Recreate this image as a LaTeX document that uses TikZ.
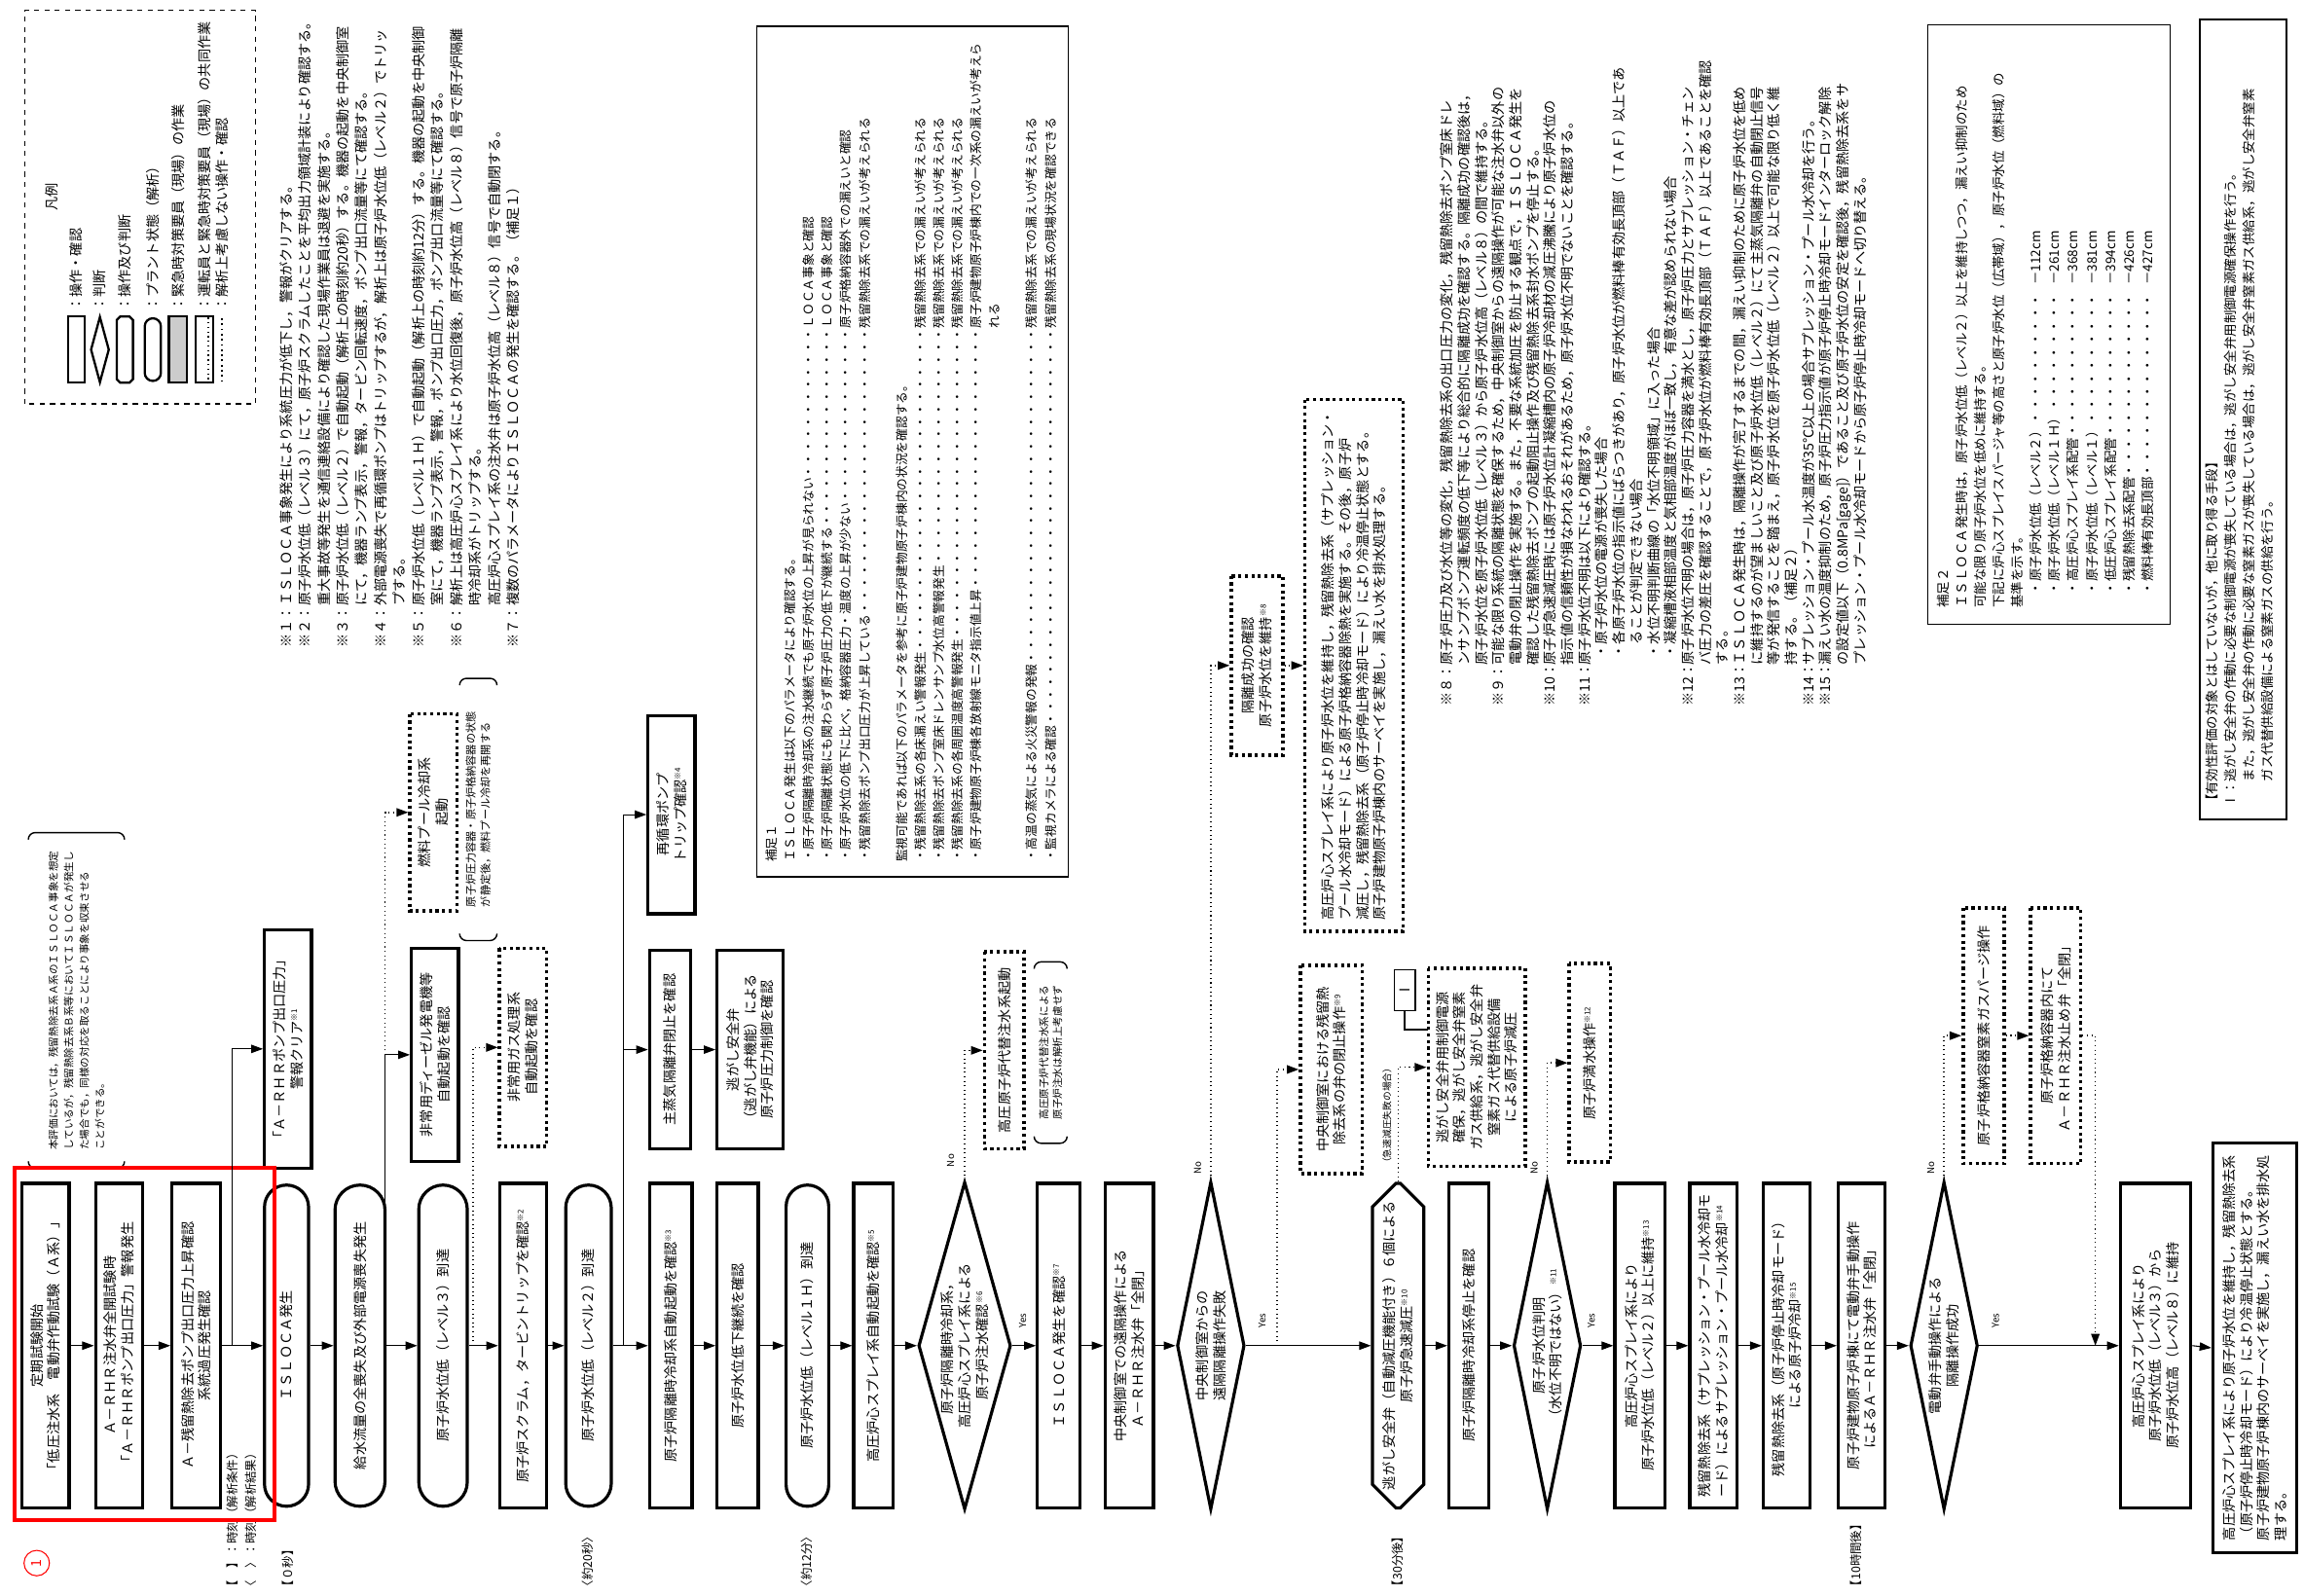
\documentclass[tikz,border=0pt]{standalone}
\usepackage{fontspec}
\setmainfont{Noto Sans CJK JP}
\usetikzlibrary{arrows.meta,calc,shapes.geometric,shapes.misc}
\newcommand{\kome}[1]{\textsuperscript{\fontsize{4.5}{5}\selectfont ※#1}}
\newcommand{\hng}[2]{\makebox[#1][l]{#2}}
\newcommand{\pts}{\leaders\hbox to 1em{\hss・\hss}\hfill}
\newcommand{\ldrow}[3]{\makebox[#1][l]{#2\pts}#3}

\begin{document}
\begin{tikzpicture}[x=0.03cm,y=0.03cm,
    every node/.style={font=\fontsize{8}{10}\selectfont},
    box/.style={draw,line width=1.8pt,rotate=90,align=center,inner sep=1pt,
                minimum width=6.63cm},
    dbox/.style={box,dotted,line width=2pt},
    plant/.style={box,rounded rectangle},
    hexa/.style={box,chamfered rectangle,chamfered rectangle xsep=0.3cm,
                 chamfered rectangle ysep=0.18cm},
    dia/.style={draw,diamond,line width=1.8pt,rotate=90,inner sep=0pt,
                minimum width=6.69cm},
    txt/.style={rotate=90,align=center,inner sep=0pt},
    note/.style={rotate=90,align=left,inner sep=0pt,anchor=north west,
                 font=\fontsize{8}{11}\selectfont},
    brnote/.style={rotate=90,align=left,inner sep=2.5pt,
                   font=\fontsize{6}{9}\selectfont},
    brk/.style={line width=0.8pt,rounded corners=4pt},
    lab/.style={rotate=90,anchor=west,inner sep=0pt,font=\fontsize{7}{8}\selectfont},
    yn/.style={rotate=90,inner sep=0pt,font=\fontsize{5.5}{6}\selectfont},
    arr/.style={-{Triangle[length=2.4mm,width=1.7mm]},line width=0.6pt},
    darr/.style={arr,dotted,line width=0.9pt}
  ]
  \useasboundingbox (0,0) rectangle (1568,1086);

  % legend
  \draw[dashed,line width=0.8pt] (17,811) rectangle (174,1079);
  \node[rotate=90] (lgt) at (35,952) {凡例};
  \node[box,minimum width=1.35cm,minimum height=0.33cm,line width=1.3pt] (lg1) at (52,848) {};
  \node[dia,minimum width=1.35cm,minimum height=0.38cm,line width=1.3pt] (lg2) at (68,848) {};
  \node[hexa,minimum width=1.35cm,minimum height=0.33cm,line width=1.3pt,
        chamfered rectangle xsep=0.1cm,chamfered rectangle ysep=0.08cm] (lg3) at (85,848) {};
  \node[plant,minimum width=1.35cm,minimum height=0.33cm,line width=1.3pt] (lg4) at (104,848) {};
  \node[box,fill=black!20,minimum width=1.35cm,minimum height=0.36cm,line width=1.3pt] (lg5) at (121,848) {};
  \node[box,minimum width=1.35cm,minimum height=0.36cm,line width=1.3pt] (lg6) at (139,848) {};
  \draw[dotted,line width=0.7pt] ($(lg6.south west)!0.3!(lg6.north west)$) -- ($(lg6.south east)!0.3!(lg6.north east)$);
  \draw[dotted,line width=1pt] (151,826) -- (151,871);
  \node[lab,font=\fontsize{8}{10}\selectfont] (lgl1) at (52,874) {：操作・確認};
  \node[lab,font=\fontsize{8}{10}\selectfont] (lgl2) at (68,874) {：判断};
  \node[lab,font=\fontsize{8}{10}\selectfont] (lgl3) at (85,874) {：操作及び判断};
  \node[lab,font=\fontsize{8}{10}\selectfont] (lgl4) at (104,874) {：プラント状態（解析）};
  \node[lab,font=\fontsize{8}{10}\selectfont] (lgl5) at (121,874) {：緊急時対策要員（現場）の作業};
  \node[lab,font=\fontsize{8}{10}\selectfont] (lgl6) at (139,874) {：運転員と緊急時対策要員（現場）の共同作業};
  \node[lab,font=\fontsize{8}{10}\selectfont] (lgl7) at (151,874) {：解析上考慮しない操作・確認};

  % notes 1-7
  \node[note] (nta) at (190,645) {%
    \hng{3em}{※１：}ＩＳＬＯＣＡ事象発生により系統圧力が低下し，警報がクリアする。\\
    \hng{3em}{※２：}原子炉水位低（レベル３）にて，原子炉スクラムしたことを平均出力領域計装により確認する。\\
    \hng{3em}{}重大事故等発生を通信連絡設備により確認した現場作業員は退避を実施する。\\
    \hng{3em}{※３：}原子炉水位低（レベル２）で自動起動（解析上の時刻約20秒）する。機器の起動を中央制御室\\
    \hng{3em}{}にて，機器ランプ表示，警報，タービン回転速度，ポンプ出口流量等にて確認する。\\
    \hng{3em}{※４：}外部電源喪失で再循環ポンプはトリップするが，解析上は原子炉水位低（レベル２）でトリッ\\
    \hng{3em}{}プする。\\
    \hng{3em}{※５：}原子炉水位低（レベル１Ｈ）で自動起動（解析上の時刻約12分）する。機器の起動を中央制御\\
    \hng{3em}{}室にて，機器ランプ表示，警報，ポンプ出口圧力，ポンプ出口流量等にて確認する。\\
    \hng{3em}{※６：}解析上は高圧炉心スプレイ系により水位回復後，原子炉水位高（レベル８）信号で原子炉隔離\\
    \hng{3em}{}時冷却系がトリップする。\\
    \hng{3em}{}高圧炉心スプレイ系の注水弁は原子炉水位高（レベル８）信号で自動閉する。\\
    \hng{3em}{※７：}複数のパラメータによりＩＳＬＯＣＡの発生を確認する。（補足１）};

  % notes 8-15
  \node[note,font=\fontsize{8}{10}\selectfont] (ntb) at (980,605) {%
    \hng{3em}{※８：}原子炉圧力及び水位等の変化，残留熱除去系の出口圧力の変化，残留熱除去ポンプ室床ドレ\\
    \hng{3em}{}ンサンプポンプ運転頻度の低下等により総合的に隔離成功を確認する。隔離成功の確認後は，\\
    \hng{3em}{}原子炉水位を原子炉水位低（レベル３）から原子炉水位高（レベル８）の間で維持する。\\
    \hng{3em}{※９：}可能な限り系統の隔離状態を確保するため，中央制御室からの遠隔操作が可能な注水弁以外の\\
    \hng{3em}{}電動弁の閉止操作を実施する。また，不要な系統加圧を防止する観点で，ＩＳＬＯＣＡ発生を\\
    \hng{3em}{}確認した残留熱除去ポンプの起動阻止操作及び残留熱除去系封水ポンプを停止する。\\
    \hng{3em}{※10：}原子炉急速減圧時には原子炉水位計凝縮槽内の原子炉冷却材の減圧沸騰により原子炉水位の\\
    \hng{3em}{}指示値の信頼性が損なわれるおそれがあるため，原子炉水位不明でないことを確認する。\\
    \hng{3em}{※11：}原子炉水位不明は以下により確認する。\\
    \hng{3.5em}{}・原子炉水位の電源が喪失した場合\\
    \hng{3.5em}{}・各原子炉水位の指示値にばらつきがあり，原子炉水位が燃料棒有効長頂部（ＴＡＦ）以上であ\\
    \hng{4.5em}{}ることが判定できない場合\\
    \hng{3.5em}{}・水位不明判断曲線の「水位不明領域」に入った場合\\
    \hng{3.5em}{}・凝縮槽液相部温度と気相部温度がほぼ一致し，有意な差が認められない場合\\
    \hng{3em}{※12：}原子炉水位不明の場合は，原子炉圧力容器を満水とし，原子炉圧力とサプレッション・チェン\\
    \hng{3em}{}バ圧力の差圧を確認することで，原子炉水位が燃料棒有効長頂部（ＴＡＦ）以上であることを確認\\
    \hng{3em}{}する。\\
    \hng{3em}{※13：}ＩＳＬＯＣＡ発生時は，隔離操作が完了するまでの間，漏えい抑制のために原子炉水位を低め\\
    \hng{3em}{}に維持するのが望ましいこと及び原子炉水位低（レベル２）にて主蒸気隔離弁の自動閉止信号\\
    \hng{3em}{}等が発信することを踏まえ，原子炉水位を原子炉水位低（レベル２）以上で可能な限り低く維\\
    \hng{3em}{}持する。（補足２）\\
    \hng{3em}{※14：}サプレッション・プール水温度が35℃以上の場合サプレッション・プール水冷却を行う。\\
    \hng{3em}{※15：}漏えい水の温度抑制のため，原子炉圧力指示値が原子炉停止時冷却モードインターロック解除\\
    \hng{3em}{}の設定値以下（0.8MPa[gage]）であること及び原子炉水位の安定を確認後，残留熱除去系をサ\\
    \hng{3em}{}プレッション・プール水冷却モードから原子炉停止時冷却モードへ切り替える。};

  % supplement 1
  \draw[line width=0.9pt] (515,489) rectangle (727,1068);
  \node[note,font=\fontsize{7.2}{10.8}\selectfont] (sup1) at (521,499) {%
    補足１\\
    ＩＳＬＯＣＡ発生は以下のパラメータにより確認する。\\
    \ldrow{10.9cm}{・原子炉隔離時冷却系の注水継続でも原子炉水位の上昇が見られない}{ＬＯＣＡ事象と確認}\\
    \ldrow{10.9cm}{・原子炉隔離状態にも関わらず原子炉圧力の低下が継続する}{ＬＯＣＡ事象と確認}\\
    \ldrow{10.9cm}{・原子炉水位の低下に比べ，格納容器圧力・温度の上昇が少ない}{原子炉格納容器外での漏えいと確認}\\
    \ldrow{10.9cm}{・残留熱除去ポンプ出口圧力が上昇している}{残留熱除去系での漏えいが考えられる}\\[10.8pt]
    監視可能であれば以下のパラメータを参考に原子炉建物原子炉棟内の状況を確認する。\\
    \ldrow{10.9cm}{・残留熱除去系の各床漏えい警報発生}{残留熱除去系での漏えいが考えられる}\\
    \ldrow{10.9cm}{・残留熱除去ポンプ室床ドレンサンプ水位高警報発生}{残留熱除去系での漏えいが考えられる}\\
    \ldrow{10.9cm}{・残留熱除去系の各周囲温度高警報発生}{残留熱除去系での漏えいが考えられる}\\
    \ldrow{10.9cm}{・原子炉建物原子炉棟各放射線モニタ指示値上昇}{原子炉建物原子炉棟内での一次系の漏えいが考えら}\\
    \hng{10.9cm}{}れる\\[10.8pt]
    \ldrow{10.9cm}{・高温の蒸気による火災警報の発報}{残留熱除去系での漏えいが考えられる}\\
    \ldrow{10.9cm}{・監視カメラによる確認}{残留熱除去系の現場状況を確認できる}};

  % supplement 2
  \draw[line width=0.9pt] (1312,661) rectangle (1477,1069);
  \node[note,font=\fontsize{7.6}{10.8}\selectfont] (sup2) at (1318,672) {%
    補足２\\
    ＩＳＬＯＣＡ発生時は，原子炉水位低（レベル２）以上を維持しつつ，漏えい抑制のため\\
    可能な限り原子炉水位を低めに維持する。\\
    下記に炉心スプレイスパージャ等の高さと原子炉水位（広帯域），原子炉水位（燃料域）の\\
    基準を示す。\\
    \ldrow{6.6cm}{\quad・原子炉水位低（レベル２）}{－112cm}\\
    \ldrow{6.6cm}{\quad・原子炉水位低（レベル１Ｈ）}{－261cm}\\
    \ldrow{6.6cm}{\quad・高圧炉心スプレイ系配管}{－368cm}\\
    \ldrow{6.6cm}{\quad・原子炉水位低（レベル１）}{－381cm}\\
    \ldrow{6.6cm}{\quad・低圧炉心スプレイ系配管}{－394cm}\\
    \ldrow{6.6cm}{\quad・残留熱除去系配管}{－426cm}\\
    \ldrow{6.6cm}{\quad・燃料棒有効長頂部}{－427cm}};

  % other means
  \draw[line width=1.2pt] (1497,528) rectangle (1556,1073);
  \node[note,font=\fontsize{7.6}{10.8}\selectfont] (oth) at (1501,536) {%
    【有効性評価の対象とはしていないが，他に取り得る手段】\\
    Ⅰ：逃がし安全弁の作動に必要な制御電源が喪失している場合は，逃がし安全弁用制御電源確保操作を行う。\\
    \hng{2em}{}また，逃がし安全弁の作動に必要な窒素ガスが喪失している場合は，逃がし安全弁窒素ガス供給系，逃がし安全弁窒素\\
    \hng{2em}{}ガス代替供給設備による窒素ガスの供給を行う。};

  % main flow
  \node[box,minimum height=0.96cm] (s1) at (31,170) {定期試験開始\\「低圧注水系　電動弁作動試験（Ａ系）」};
  \node[box,minimum height=0.96cm] (s2) at (81,170) {Ａ－ＲＨＲ注水弁全開試験時\\「Ａ－ＲＨＲポンプ出口圧力」警報発生};
  \node[box,minimum height=0.99cm] (s3) at (133.5,170) {Ａ－残留熱除去ポンプ出口圧力上昇確認\\系統過圧発生確認};
  \node[plant,minimum height=0.9cm] (iso) at (195,170) {ＩＳＬＯＣＡ発生};
  \node[plant,minimum height=1.02cm] (lop) at (245,170) {給水流量の全喪失及び外部電源喪失発生};
  \node[plant,minimum height=0.99cm] (l3) at (301.5,170) {原子炉水位低（レベル３）到達};
  \node[box,minimum height=0.96cm] (scr) at (356,170) {原子炉スクラム，タービントリップを確認\kome{2}};
  \node[plant,minimum height=0.93cm] (l2) at (400.5,170) {原子炉水位低（レベル２）到達};
  \node[box,minimum height=0.87cm] (rcic) at (456.5,170) {原子炉隔離時冷却系自動起動を確認\kome{3}};
  \node[box,minimum height=0.84cm] (lvd) at (502,170) {原子炉水位低下継続を確認};
  \node[plant,minimum height=0.87cm] (l1h) at (549.5,170) {原子炉水位低（レベル１Ｈ）到達};
  \node[box,minimum height=0.81cm] (hpcs) at (594.5,170) {高圧炉心スプレイ系自動起動を確認\kome{5}};
  \node[dia,minimum height=1.89cm] (d1) at (656.5,170) {};
  \node[txt] (d1t) at (d1) {原子炉隔離時冷却系，\\高圧炉心スプレイ系による\\原子炉注水確認\kome{6}};
  \node[box,minimum height=0.87cm] (isoc) at (720.5,170) {ＩＳＬＯＣＡ発生を確認\kome{7}};
  \node[box,minimum height=0.99cm] (rem) at (768.5,170) {中央制御室での遠隔操作による\\Ａ－ＲＨＲ注水弁「全閉」};
  \node[dia,minimum height=1.38cm] (d2) at (824,170) {};
  \node[txt] (d2t) at (d2) {中央制御室からの\\遠隔隔離操作失敗};
  \node[hexa,minimum height=0.99cm] (sr) at (951.5,170) {逃がし安全弁（自動減圧機能付き）６個による\\原子炉急速減圧\kome{10}};
  \node[box,minimum height=0.81cm] (rcst) at (999.5,170) {原子炉隔離時冷却系停止を確認};
  \node[dia,minimum height=1.38cm] (d3) at (1053,170) {};
  \node[txt] (d3t) at (d3) {原子炉水位判明\\（水位不明ではない）\kome{11}};
  \node[box,minimum height=1.02cm] (hp2) at (1116,170) {高圧炉心スプレイ系により\\原子炉水位低（レベル２）以上に維持\kome{13}};
  \node[box,minimum height=0.96cm,align=left] (spc) at (1166,170) {残留熱除去系（サプレッション・プール水冷却モ\\ード）によるサプレッション・プール水冷却\kome{14}};
  \node[box,minimum height=0.96cm] (shc) at (1216,170) {残留熱除去系（原子炉停止時冷却モード）\\による原子炉冷却\kome{15}};
  \node[box,minimum height=0.96cm] (man) at (1267,170) {原子炉建物原子炉棟にて電動弁手動操作\\によるＡ－ＲＨＲ注水弁「全閉」};
  \node[dia,minimum height=1.38cm] (d4) at (1323,170) {};
  \node[txt] (d4t) at (d4) {電動弁手動操作による\\隔離操作成功};
  \node[box,minimum height=1.44cm] (hp8) at (1467,170) {高圧炉心スプレイ系により\\原子炉水位低（レベル３）から\\原子炉水位高（レベル８）に維持};
  \node[box,minimum width=8.37cm,minimum height=1.71cm,align=left,inner sep=3pt] (fin) at (1534.5,168.5) {高圧炉心スプレイ系により原子炉水位を維持し，残留熱除去系\\（原子炉停止時冷却モード）により冷温停止状態とする。\\原子炉建物原子炉棟内のサーベイを実施し，漏えい水を排水処\\理する。};

  % side branches
  \node[box,minimum width=4.86cm,minimum height=0.96cm] (clr) at (196,372) {「Ａ－ＲＨＲポンプ出口圧力」\\警報クリア\kome{1}};
  \node[brnote,minimum width=6.84cm,minimum height=1.95cm] (n0) at (52,405) {本評価においては，残留熱除去系Ａ系のＩＳＬＯＣＡ事象を想定\\しているが，残留熱除去系Ｂ系等においてＩＳＬＯＣＡが発生し\\た場合でも，同様の対応を取ることにより事象を収束させる\\ことができる。};
  \node[box,minimum width=4.35cm,minimum height=0.96cm] (dg) at (296,368) {非常用ディーゼル発電機等\\自動起動を確認};
  \node[dbox,minimum width=4.02cm,minimum height=0.96cm] (fpc) at (295,533) {燃料プール冷却系\\起動};
  \node[brnote,minimum width=5.34cm,minimum height=0.75cm,font=\fontsize{6.3}{8.5}\selectfont] (n1) at (325.5,535) {原子炉圧力容器・原子炉格納容器の状態\\が静定後，燃料プール冷却を再開する};
  \node[dbox,minimum width=4.05cm,minimum height=0.96cm] (sgts) at (356,373) {非常用ガス処理系\\自動起動を確認};
  \node[box,minimum width=4.05cm,minimum height=0.96cm] (rpt) at (457,531.5) {再循環ポンプ\\トリップ確認\kome{4}};
  \node[box,minimum width=4.05cm,minimum height=0.84cm] (msiv) at (456,371.5) {主蒸気隔離弁閉止を確認};
  \node[box,minimum width=4.05cm,minimum height=1.35cm] (srv) at (510.5,371.5) {逃がし安全弁\\（逃がし弁機能）による\\原子炉圧力制御を確認};
  \node[dbox,minimum width=4.02cm,minimum height=0.81cm] (hpac) at (683.5,371) {高圧原子炉代替注水系起動};
  \node[brnote,minimum width=3.69cm,minimum height=0.66cm,font=\fontsize{6}{8}\selectfont] (n2) at (715,369.5) {高圧原子炉代替注水系による\\原子炉注水は解析上考慮せず};
  \node[dbox,minimum width=3.66cm,minimum height=1.05cm] (isok) at (855.5,633) {隔離成功の確認\\原子炉水位を維持\kome{8}};
  \node[dbox,minimum width=10.86cm,minimum height=2.01cm,align=left,inner sep=3pt] (long) at (921.5,633) {高圧炉心スプレイ系により原子炉水位を維持し，残留熱除去系（サプレッション・\\プール水冷却モード）による原子炉格納容器除熱を実施する。その後，原子炉\\減圧し，残留熱除去系（原子炉停止時冷却モード）により冷温停止状態とする。\\原子炉建物原子炉棟内のサーベイを実施し，漏えい水を排水処理する。};
  \node[dbox,minimum width=4.26cm,minimum height=1.26cm] (rhrv) at (906,358) {中央制御室における残留熱\\除去系の弁の閉止操作\kome{9}};
  \node[lab,font=\fontsize{5.5}{6}\selectfont] (fail) at (944,291) {（急速減圧失敗の場合）};
  \node[dbox,minimum width=4.05cm,minimum height=1.98cm] (srvn) at (1005,359.5) {逃がし安全弁用制御電源\\確保，逃がし安全弁窒素\\ガス供給系，逃がし安全弁\\窒素ガス代替供給設備\\による原子炉減圧};
  \node[draw,line width=0.9pt,rotate=90,minimum width=0.84cm,minimum height=0.42cm,inner sep=0pt] (ibox) at (956,412) {Ⅰ};
  \coordinate (ip) at (972,385);
  \node[dbox,minimum width=4.05cm,minimum height=0.84cm] (fill) at (1082,362.5) {原子炉満水操作\kome{12}};
  \node[dbox,minimum width=5.22cm,minimum height=0.84cm] (purge) at (1350,381) {原子炉格納容器窒素ガスパージ操作};
  \node[dbox,minimum width=5.22cm,minimum height=1.02cm] (cv) at (1399,381) {原子炉格納容器内にて\\Ａ－ＲＨＲ注水止め弁「全閉」};

  % brackets
  \draw[brk] ($(n0.north west)!4pt!(n0.north east)$) -- (n0.north west) -- (n0.south west) -- ($(n0.south west)!4pt!(n0.south east)$);
  \draw[brk] ($(n0.north east)!4pt!(n0.north west)$) -- (n0.north east) -- (n0.south east) -- ($(n0.south east)!4pt!(n0.south west)$);
  \draw[brk] ($(n1.north west)!4pt!(n1.north east)$) -- (n1.north west) -- (n1.south west) -- ($(n1.south west)!4pt!(n1.south east)$);
  \draw[brk] ($(n1.north east)!4pt!(n1.north west)$) -- (n1.north east) -- (n1.south east) -- ($(n1.south east)!4pt!(n1.south west)$);
  \draw[brk] ($(n2.north west)!4pt!(n2.north east)$) -- (n2.north west) -- (n2.south west) -- ($(n2.south west)!4pt!(n2.south east)$);
  \draw[brk] ($(n2.north east)!4pt!(n2.north west)$) -- (n2.north east) -- (n2.south east) -- ($(n2.south east)!4pt!(n2.south west)$);

  % time labels
  \node[lab] (k1) at (158,2) {【　】：時刻（解析条件）};
  \node[lab] (k2) at (171,2) {〈　〉：時刻（解析結果）};
  \node[lab] (t0) at (196,2) {【０秒】};
  \node[lab] (t20) at (400,2) {〈約20秒〉};
  \node[lab] (t12) at (549,2) {〈約12分〉};
  \node[lab] (t30) at (951,2) {【30分後】};
  \node[lab] (t10) at (1263,2) {【10時間後】};

  % yes / no
  \node[yn] (no1) at (647,296) {No};
  \node[yn] (no2) at (815,291) {No};
  \node[yn] (no3) at (1044,291) {No};
  \node[yn] (no4) at (1314,291) {No};
  \node[yn] (ye1) at (696,187) {Yes};
  \node[yn] (ye2) at (859,187) {Yes};
  \node[yn] (ye3) at (1083,187) {Yes};
  \node[yn] (ye4) at (1358,187) {Yes};

  % highlight
  \draw[red,line width=2.2pt] (10,51) rectangle (187,291);
  \node[circle,draw=red,text=red,rotate=90,line width=0.6pt,minimum size=0.52cm,inner sep=0pt] (one) at (25,22) {1};

  % junctions
  \coordinate (j1) at (158,170);
  \coordinate (j2) at (262,170);
  \coordinate (j3) at (322,170);
  \coordinate (j4) at (424,170);
  \coordinate (j5) at (869,170);
  \coordinate (j6) at (1426,170);

  % main arrows
  \draw[arr] (s1.south) -- (s2.north);
  \draw[arr] (s2.south) -- (s3.north);
  \draw[arr] (s3.south) -- (iso.north);
  \draw[arr] (iso.south) -- (lop.north);
  \draw[arr] (lop.south) -- (l3.north);
  \draw[arr] (l3.south) -- (scr.north);
  \draw[arr] (scr.south) -- (l2.north);
  \draw[arr] (l2.south) -- (rcic.north);
  \draw[arr] (rcic.south) -- (lvd.north);
  \draw[arr] (lvd.south) -- (l1h.north);
  \draw[arr] (l1h.south) -- (hpcs.north);
  \draw[arr] (hpcs.south) -- (d1.north);
  \draw[arr] (d1.south) -- (isoc.north);
  \draw[arr] (isoc.south) -- (rem.north);
  \draw[arr] (rem.south) -- (d2.north);
  \draw[arr] (d2.south) -- (sr.north);
  \draw[arr] (sr.south) -- (rcst.north);
  \draw[arr] (rcst.south) -- (d3.north);
  \draw[arr] (d3.south) -- (hp2.north);
  \draw[arr] (hp2.south) -- (spc.north);
  \draw[arr] (spc.south) -- (shc.north);
  \draw[arr] (shc.south) -- (man.north);
  \draw[arr] (man.south) -- (d4.north);
  \draw[arr] (d4.south) -- (hp8.north);
  \draw[arr] (hp8.south) -- (fin.north);

  % branch arrows
  \draw[arr] (j1) |- (clr.north);
  \draw[arr] (j2) |- (dg.north);
  \draw[darr] (j2 |- dg.north) |- (fpc.north);
  \draw[darr] (j3) |- (sgts.north);
  \draw[arr] (j4) |- (msiv.north);
  \draw[arr] (j4) |- (rpt.north);
  \draw[arr] (msiv.south) -- (srv.north);
  \draw[darr] (d1.east) |- (hpac.north);
  \draw[darr] (d2.east) |- (isok.north);
  \draw[darr] (isok.south) -- (long.north);
  \draw[darr] (j5) |- (rhrv.north);
  \draw[darr] (sr.east) |- (srvn.north);
  \draw[line width=0.8pt] (ibox.west) |- (ip);
  \draw[darr] (d3.east) |- (fill.north);
  \draw[darr] (d4.east) |- (purge.north);
  \draw[darr] (purge.south) -- (cv.north);
  \draw[darr] (cv.south) -| (j6);
\end{tikzpicture}
\end{document}
